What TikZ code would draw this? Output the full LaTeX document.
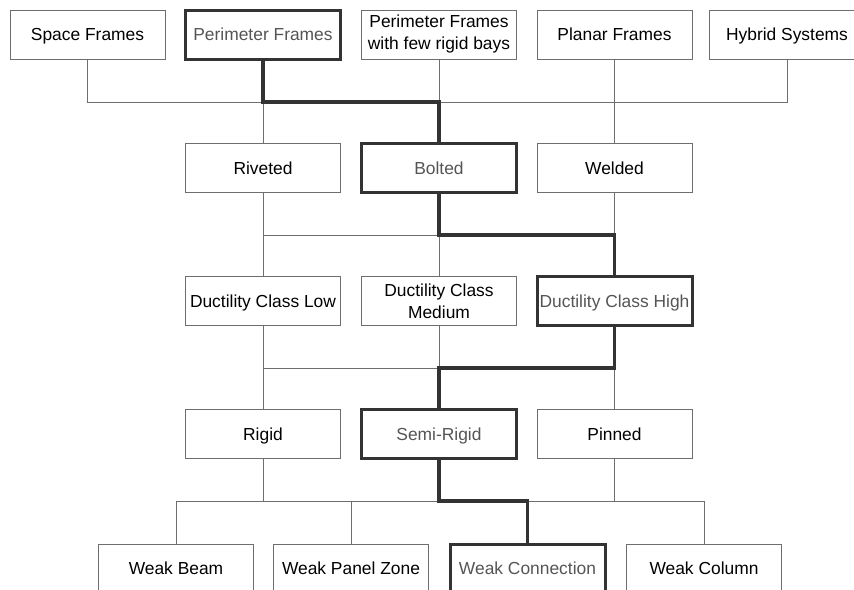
\documentclass[tikz,border=0pt]{standalone}
\usepackage{fontspec}
\setmainfont{Liberation Sans}
\usetikzlibrary{calc}

\definecolor{boxline}{HTML}{6E6E6E}
\definecolor{pathline}{HTML}{333333}
\definecolor{pathtext}{HTML}{555555}

\tikzset{
  boxbase/.style={draw=boxline, line width=0.5pt, fill=white, minimum width=77.5pt,
    minimum height=24.5pt, inner sep=1pt, outer sep=0pt, align=center,
    font=\fontsize{8.7}{11}\selectfont},
  box/.style={boxbase, text height=6.2pt, text depth=0pt},
  pathbox/.style={box, draw=pathline, line width=1.5pt, text=pathtext},
  link/.style={draw=boxline, line width=0.5pt},
  chosen/.style={draw=pathline, line width=1.6pt, line join=miter}
}

\begin{document}
\begin{tikzpicture}[x=0.5pt,y=-0.5pt]
\clip (0,0) rectangle (854,589);
\fill [white] (0,0) rectangle (854,589);
% Bus heights
\coordinate (busA) at (0,102);
\coordinate (busB) at (0,235);
\coordinate (busC) at (0,368);
\coordinate (busD) at (0,501);

% Row 1: frame type
\node [box] (sf) at (87.5,34.5) {Space Frames};
\node [pathbox] (pf) at (263,34.5) {Perimeter Frames};
\node [boxbase] (fr) at (439,34.5) {Perimeter Frames\\with few rigid bays};
\node [box] (pl) at (614.5,34.5) {Planar Frames};
\node [box] (hs) at (787,34.5) {Hybrid Systems};
% Row 2: connection type
\node [box] (riv) at (263,168) {Riveted};
\node [pathbox] (bol) at (439,168) {Bolted};
\node [box] (wel) at (614.5,168) {Welded};
% Row 3: ductility class
\node [box] (dcl) at (263,301) {Ductility Class Low};
\node [boxbase] (dcm) at (439,301) {Ductility Class\\Medium};
\node [pathbox] (dch) at (614.5,301) {Ductility Class High};
% Row 4: joint stiffness
\node [box] (rig) at (263,434) {Rigid};
\node [pathbox] (semi) at (439,434) {Semi-Rigid};
\node [box] (pin) at (614.5,434) {Pinned};
% Row 5: failure mode
\node [box] (wb) at (176,568.5) {Weak Beam};
\node [box] (wpz) at (351,568.5) {Weak Panel Zone};
\node [pathbox] (wcn) at (527.5,568.5) {Weak Connection};
\node [box] (wcl) at (704,568.5) {Weak Column};

% Connectors, row 1 -> row 2
\draw [link] (sf.south) |- (hs.south |- busA) -- (hs.south);
\draw [link] (pf.south) -- (riv.north);
\draw [link] (fr.south) -- (bol.north);
\draw [link] (pl.south) -- (wel.north);
% Connectors, row 2 -> row 3
\draw [link] (riv.south) -- (dcl.north);
\draw [link] (riv.south |- busB) -- (wel.south |- busB);
\draw [link] (wel.south) -- (dch.north);
\draw [link] (dcm.north |- busB) -- (dcm.north);
% Connectors, row 3 -> row 4
\draw [link] (dcl.south) -- (rig.north);
\draw [link] (dcl.south |- busC) -- (pin.north |- busC);
\draw [link] (dcm.south) -- (dcm.south |- busC);
\draw [link] (pin.north |- busC) -- (pin.north);
% Connectors, row 4 -> row 5
\draw [link] (rig.south) -- (rig.south |- busD);
\draw [link] (pin.south) -- (pin.south |- busD);
\draw [link] (wb.north) |- (wcl.north |- busD) -- (wcl.north);
\draw [link] (wpz.north |- busD) -- (wpz.north);

% Chosen path
\draw [chosen] (pf.south) |- (bol.north |- busA) -- (bol.north);
\draw [chosen] (bol.south) |- (dch.north |- busB) -- (dch.north);
\draw [chosen] (dch.south) |- (semi.north |- busC) -- (semi.north);
\draw [chosen] (semi.south) |- (wcn.north |- busD) -- (wcn.north);
\end{tikzpicture}
\end{document}
